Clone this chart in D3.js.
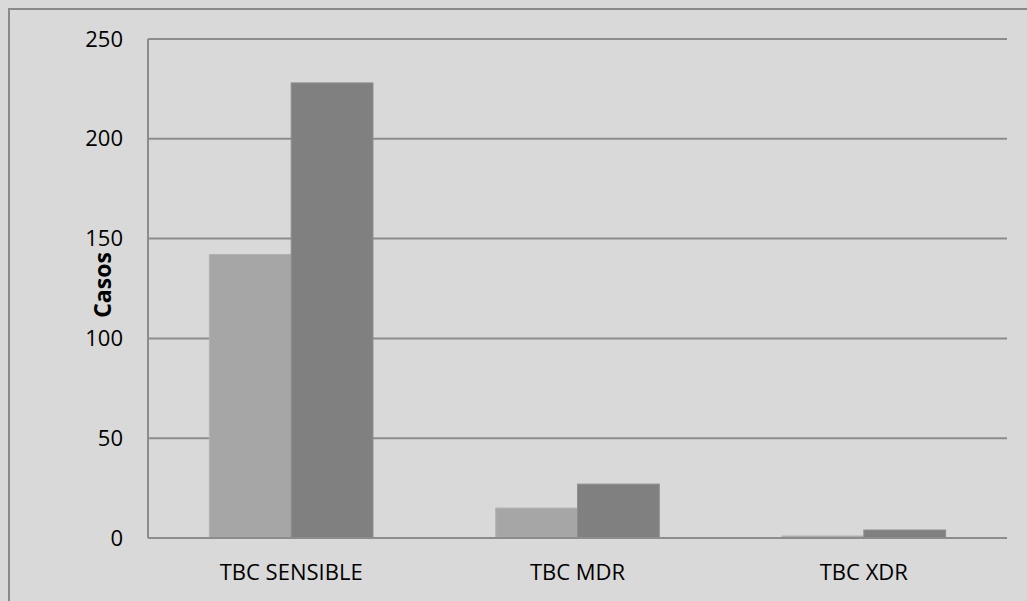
<!DOCTYPE html>
<html>
<head>
<meta charset="utf-8">
<script src="https://cdn.jsdelivr.net/npm/d3@7"></script>
<style>
  html, body { margin: 0; padding: 0; background: #d9d9d9; }
  svg { display: block; }
  text { font-family: "Open Sans", "Noto Sans", sans-serif; fill: #000; }
</style>
</head>
<body>
<svg id="chart" width="1027" height="601"></svg>
<script>
// Tuberculosis cases by resistance type, two series per category
const categories = ["TBC SENSIBLE", "TBC MDR", "TBC XDR"];
const seriesA = [142, 15, 1];
const seriesB = [228, 27, 4];
const yTicks = [0, 50, 100, 150, 200, 250];
const yTitle = "Casos";

const W = 1027, H = 601;
const plot = { left: 148, top: 39, right: 1007, bottom: 538 };

const svg = d3.select("#chart");

// outer chart frame
svg.append("rect")
  .attr("x", 9).attr("y", 9)
  .attr("width", W + 20).attr("height", H + 20)
  .attr("fill", "#d9d9d9")
  .attr("stroke", "#8a8a8a").attr("stroke-width", 2);

const x0 = d3.scaleBand()
  .domain(categories)
  .range([plot.left, plot.right])
  .paddingInner(0).paddingOuter(0);

const seriesKeys = ["a", "b"];
const x1 = d3.scaleBand()
  .domain(seriesKeys)
  .range([0, x0.bandwidth()])
  .paddingOuter(0.75).paddingInner(0);

const y = d3.scaleLinear().domain([0, 250]).range([plot.bottom, plot.top]);

// horizontal gridlines
svg.append("g")
  .selectAll("line")
  .data(yTicks)
  .join("line")
  .attr("x1", plot.left).attr("x2", plot.right)
  .attr("y1", d => y(d)).attr("y2", d => y(d))
  .attr("stroke", "#8c8c8c").attr("stroke-width", 2);

// left axis line
svg.append("line")
  .attr("x1", plot.left).attr("x2", plot.left)
  .attr("y1", plot.top).attr("y2", plot.bottom)
  .attr("stroke", "#8c8c8c").attr("stroke-width", 2);

// y tick labels
const yAxis = d3.axisLeft(y).tickValues(yTicks).tickSize(0).tickPadding(25);
const gy = svg.append("g").attr("transform", `translate(${plot.left},0)`).call(yAxis);
gy.select(".domain").remove();
gy.selectAll("text")
  .style("font-family", '"Open Sans", "Noto Sans", sans-serif')
  .style("font-size", "22px")
  .attr("fill", "#000");

// bars
const colors = { a: "#a6a6a6", b: "#808080" };
const edges = { a: "#b2b2b2", b: "#8e8e8e" };
const rows = categories.map((c, i) => ({ cat: c, values: [
  { key: "a", v: seriesA[i] }, { key: "b", v: seriesB[i] }
]}));

const groups = svg.append("g")
  .selectAll("g")
  .data(rows)
  .join("g")
  .attr("transform", d => `translate(${x0(d.cat)},0)`);

groups.selectAll("rect")
  .data(d => d.values)
  .join("rect")
  .attr("x", d => x1(d.key))
  .attr("y", d => y(d.v))
  .attr("width", x1.bandwidth())
  .attr("height", d => y(0) - y(d.v))
  .attr("fill", d => colors[d.key])
  .attr("stroke", d => edges[d.key])
  .attr("stroke-width", 1);

// baseline over the bars
svg.append("line")
  .attr("x1", plot.left).attr("x2", plot.right)
  .attr("y1", y(0)).attr("y2", y(0))
  .attr("stroke", "#8c8c8c").attr("stroke-width", 2);

// category labels
svg.append("g")
  .selectAll("text")
  .data(categories)
  .join("text")
  .attr("x", d => x0(d) + x0.bandwidth() / 2)
  .attr("y", 580)
  .attr("text-anchor", "middle")
  .style("font-size", "22px")
  .text(d => d);

// y axis title
svg.append("text")
  .attr("transform", "translate(111,285) rotate(-90)")
  .attr("text-anchor", "middle")
  .style("font-size", "23px")
  .style("font-weight", "bold")
  .text(yTitle);
</script>
</body>
</html>
